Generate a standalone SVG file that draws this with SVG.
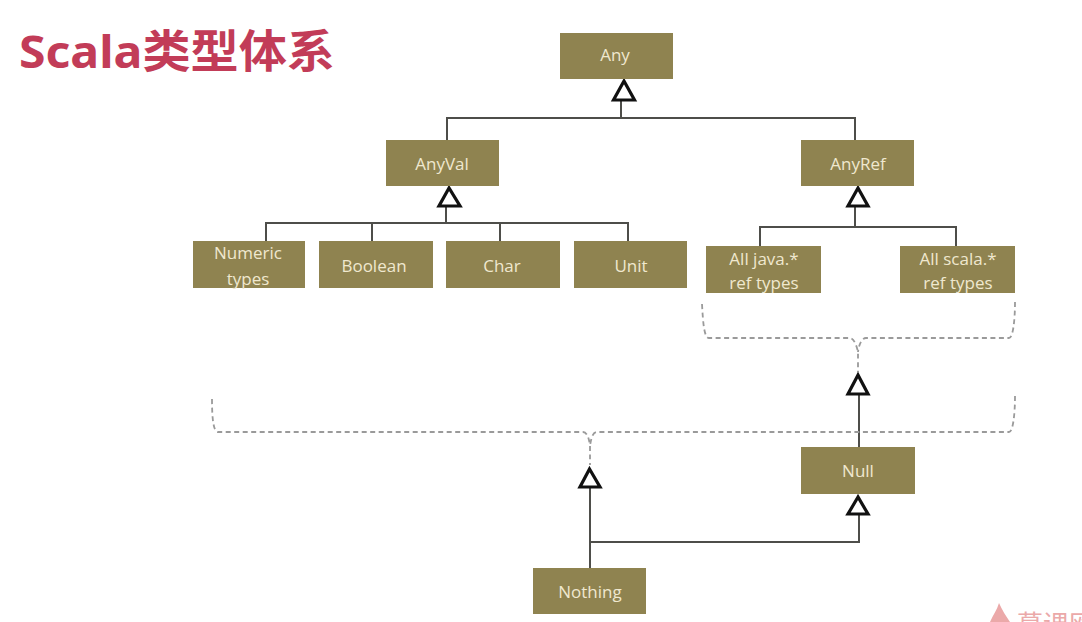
<svg xmlns="http://www.w3.org/2000/svg" width="1082" height="622" viewBox="0 0 1082 622">
<style>
.box{fill:#8f8350}
.lbl{font-family:"Open Sans","Noto Sans",sans-serif;font-size:17px;fill:#efe8cf;text-anchor:middle}
.ln{fill:none;stroke:#4e4e4a;stroke-width:2}
.dash{fill:none;stroke:#9a9a9a;stroke-width:1.8;stroke-dasharray:5 3.5}
.tri{fill:#fff;stroke:#111;stroke-width:3.2;stroke-linejoin:miter}
</style>
<rect width="1082" height="622" fill="#fff"/>
<text id="title" x="19" y="68" font-family="'Noto Sans','Noto Sans CJK SC',sans-serif" font-weight="700" font-size="45" fill="#c23c58" textLength="316" lengthAdjust="spacingAndGlyphs">Scala类型体系</text>
<g id="connectors">
<path class="ln" d="M621 100V118M447 140V118H855V140"/>
<path class="ln" d="M446 207V223M266 241V223H628V241M372 223V241M500 223V241"/>
<path class="ln" d="M855 207V227M760 246V227H956V246"/>
<path class="ln" d="M859 395V447"/>
<path class="ln" d="M590 487V568M589 542H859V515"/>
<path class="dash" d="M702 304C703 322 704 338 709 338H850C853 338 856 343 858 352C858 358 858 365 858 372"/>
<path class="dash" d="M1015 302C1015 320 1013 338 1009 338H866C862 338 859 344 858 352"/>
<path class="dash" d="M212 399C212 416 213 432 218 432H583C587 432 589 438 590 446C590 452 590 458 590 465"/>
<path class="dash" d="M1015 396C1015 414 1013 432 1009 432H597C593 432 591 438 590 446"/>
<polygon class="tri" points="624,81 613.500,100 634.500,100"/>
<polygon class="tri" points="449,188 439,206 460,206"/>
<polygon class="tri" points="858,188 848,206 868,206"/>
<polygon class="tri" points="858,375 848,394 868,394"/>
<polygon class="tri" points="858,497 848,514 868,514"/>
<polygon class="tri" points="589.500,469 580,487 600,487"/>
</g>
<g id="any"><rect class="box" x="560" y="33" width="113" height="46"/><text class="lbl" x="615" y="61">Any</text></g>
<g id="anyval"><rect class="box" x="386" y="140" width="113" height="46"/><text class="lbl" x="442" y="170">AnyVal</text></g>
<g id="anyref"><rect class="box" x="801" y="140" width="113" height="46"/><text class="lbl" x="858" y="170">AnyRef</text></g>
<g id="numeric"><rect class="box" x="193" y="241" width="112" height="47"/><text class="lbl" x="248" y="259">Numeric</text><text class="lbl" x="248" y="285">types</text></g>
<g id="boolean"><rect class="box" x="319" y="241" width="114" height="47"/><text class="lbl" x="374" y="272">Boolean</text></g>
<g id="char"><rect class="box" x="446" y="241" width="114" height="47"/><text class="lbl" x="502" y="272">Char</text></g>
<g id="unit"><rect class="box" x="574" y="241" width="113" height="47"/><text class="lbl" x="631" y="272">Unit</text></g>
<g id="java"><rect class="box" x="706" y="246" width="115" height="47"/><text class="lbl" x="764" y="265">All java.*</text><text class="lbl" x="764" y="289">ref types</text></g>
<g id="scala"><rect class="box" x="900" y="246" width="115" height="47"/><text class="lbl" x="958" y="265">All scala.*</text><text class="lbl" x="958" y="289">ref types</text></g>
<g id="null"><rect class="box" x="801" y="447" width="114" height="47"/><text class="lbl" x="858" y="477">Null</text></g>
<g id="nothing"><rect class="box" x="533" y="568" width="113" height="46"/><text class="lbl" x="590" y="598">Nothing</text></g>
<g id="watermark"><path d="M990 622C993 615 997 610 999 603C1002 610 1006 616 1010 622Z" fill="#eba9a9"/><text x="1017" y="634" font-family="'Noto Sans CJK SC',sans-serif" font-size="26" fill="#eba9a9">慕课网</text></g>
</svg>
